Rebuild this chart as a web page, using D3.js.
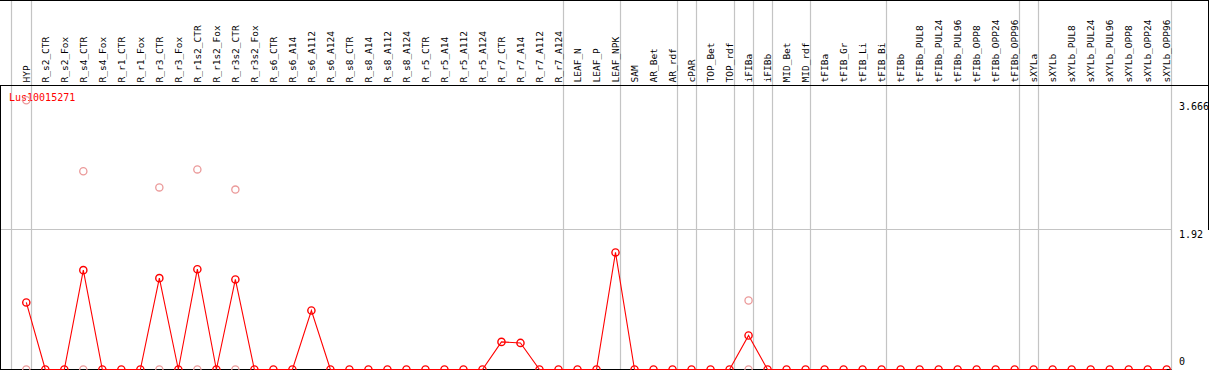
<!DOCTYPE html>
<html>
<head>
<meta charset="utf-8">
<script src="https://cdn.jsdelivr.net/npm/d3@7"></script>
<style>
    body { margin: 0; background: #fff; }
    svg { display: block; }
    .cat-label { font-family: "DejaVu Sans Mono", monospace; font-size: 9.5px; fill: #000; }
    .axis-label { font-family: "DejaVu Sans Mono", monospace; font-size: 10px; fill: #000; }
</style>
</head>
<body>
<svg id="chart" width="1209" height="370"></svg>
<script>
// Sample names along the top
const categories = [
    'HYP', 'R_s2_CTR', 'R_s2_Fox', 'R_s4_CTR', 'R_s4_Fox', 'R_r1_CTR', 'R_r1_Fox',
    'R_r3_CTR', 'R_r3_Fox', 'R_r1s2_CTR', 'R_r1s2_Fox', 'R_r3s2_CTR', 'R_r3s2_Fox',
    'R_s6_CTR', 'R_s6_A14', 'R_s6_A112', 'R_s6_A124', 'R_s8_CTR', 'R_s8_A14', 'R_s8_A112',
    'R_s8_A124', 'R_r5_CTR', 'R_r5_A14', 'R_r5_A112', 'R_r5_A124', 'R_r7_CTR', 'R_r7_A14',
    'R_r7_A112', 'R_r7_A124', 'LEAF_N', 'LEAF_P', 'LEAF_NPK', 'SAM', 'AR_Bet', 'AR_rdf',
    'cPAR', 'TOP_Bet', 'TOP_rdf', 'iFIBa', 'iFIBb', 'MID_Bet', 'MID_rdf', 'tFIBa',
    'tFIB_Gr', 'tFIB_Li', 'tFIB_Bi', 'tFIBb', 'tFIBb_PUL8', 'tFIBb_PUL24', 'tFIBb_PUL96',
    'tFIBb_OPP8', 'tFIBb_OPP24', 'tFIBb_OPP96', 'sXYLa', 'sXYLb', 'sXYLb_PUL8',
    'sXYLb_PUL24', 'sXYLb_PUL96', 'sXYLb_OPP8', 'sXYLb_OPP24', 'sXYLb_OPP96'
];

// Mean expression per sample (red line)
const meanValues = [
    0.913, 0, 0, 1.353, 0, 0, 0, 1.244, 0, 1.366, 0, 1.226, 0,
    0, 0, 0.804, 0, 0, 0, 0, 0, 0, 0, 0, 0, 0.376, 0.362, 0, 0,
    0, 0, 1.594, 0, 0, 0, 0, 0, 0, 0.463, 0, 0, 0, 0,
    0, 0, 0, 0, 0, 0, 0, 0, 0, 0, 0, 0, 0, 0, 0, 0, 0, 0
];

// Individual replicates (pale circles)
const repSamples = ['HYP', 'HYP', 'R_s4_CTR', 'R_s4_CTR', 'R_r3_CTR', 'R_r3_CTR',
    'R_r1s2_CTR', 'R_r1s2_CTR', 'R_r3s2_CTR', 'R_r3s2_CTR', 'iFIBa', 'iFIBa'];
const repValues = [3.666, 0, 2.70, 0, 2.48, 0, 2.725, 0, 2.45, 0, 0.94, 0];

// Last sample of each tissue group (gray separators)
const groupEnds = ['HYP', 'R_r7_A124', 'LEAF_NPK', 'AR_rdf', 'cPAR', 'TOP_rdf', 'iFIBa',
    'iFIBb', 'MID_rdf', 'tFIB_Bi', 'tFIBb_OPP96', 'sXYLa', 'sXYLb_OPP96'];

const yTicks = [0, 1.92, 3.666];
const geneName = 'Lus10015271';

const width = 1209;
const headerBottom = 85.5;
const svg = d3.select('#chart');

const x = d3.scalePoint()
    .domain(categories)
    .range([26.3, 1166.7]);

const y = d3.scaleLinear()
    .domain([0, 3.666])
    .range([369.5, 100.3]);

const sepOffset = 4.4;
const rightEdge = x(categories[categories.length - 1]) + sepOffset;

// Gray separators
const seps = [10.7].concat(groupEnds.map(c => x(c) + sepOffset));
svg.selectAll('line.sep')
    .data(seps)
    .enter().append('line')
    .attr('class', 'sep')
    .attr('x1', d => Math.round(d) + 0.5)
    .attr('x2', d => Math.round(d) + 0.5)
    .attr('y1', 0)
    .attr('y2', 370)
    .attr('stroke', '#c4c4c4')
    .attr('stroke-width', 1.2);

// Middle gridline
svg.append('line')
    .attr('x1', 0)
    .attr('x2', Math.round(rightEdge) + 0.5)
    .attr('y1', Math.round(y(1.92)) + 0.5)
    .attr('y2', Math.round(y(1.92)) + 0.5)
    .attr('stroke', '#c4c4c4')
    .attr('stroke-width', 1.2);

// Frame lines
svg.append('line')
    .attr('x1', 0).attr('x2', width)
    .attr('y1', 0.5).attr('y2', 0.5)
    .attr('stroke', '#000');
svg.append('line')
    .attr('x1', 0).attr('x2', width)
    .attr('y1', headerBottom).attr('y2', headerBottom)
    .attr('stroke', '#000');
svg.append('line')
    .attr('x1', 0.5).attr('x2', 0.5)
    .attr('y1', headerBottom).attr('y2', 370)
    .attr('stroke', '#000');
svg.append('line')
    .attr('x1', width - 0.5).attr('x2', width - 0.5)
    .attr('y1', 0).attr('y2', Math.round(y(1.92)) + 1)
    .attr('stroke', '#000');
svg.append('line')
    .attr('x1', 0).attr('x2', Math.round(rightEdge) + 0.5)
    .attr('y1', 369.5).attr('y2', 369.5)
    .attr('stroke', '#000');

// Rotated sample labels
svg.selectAll('text.cat-label')
    .data(categories)
    .enter().append('text')
    .attr('class', 'cat-label')
    .attr('transform', d => `translate(${x(d) + 3.6},82.5) rotate(-90)`)
    .text(d => d);

// Gene name
svg.append('text')
    .attr('x', 9)
    .attr('y', 101)
    .attr('font-family', '"DejaVu Sans Mono", monospace')
    .attr('font-size', '10px')
    .attr('fill', '#ff0000')
    .text(geneName);

// Right-side value labels
svg.selectAll('text.axis-label')
    .data(yTicks)
    .enter().append('text')
    .attr('class', 'axis-label')
    .attr('x', 1179)
    .attr('y', d => d === 0 ? y(d) - 4.5 : y(d) + 9.5)
    .text(d => d);

// Replicate points
svg.selectAll('circle.rep')
    .data(repSamples.map((s, i) => ({ s, v: repValues[i] })))
    .enter().append('circle')
    .attr('class', 'rep')
    .attr('cx', d => x(d.s))
    .attr('cy', d => y(d.v))
    .attr('r', 3.6)
    .attr('fill', 'none')
    .attr('stroke', '#eb9a9a')
    .attr('stroke-width', 1.3);

// Mean line
const line = d3.line()
    .x((d, i) => x(categories[i]))
    .y(d => y(d));

svg.append('path')
    .datum(meanValues)
    .attr('d', line)
    .attr('fill', 'none')
    .attr('stroke', '#ff0000')
    .attr('stroke-width', 1.1);

svg.selectAll('circle.mean')
    .data(meanValues)
    .enter().append('circle')
    .attr('class', 'mean')
    .attr('cx', (d, i) => x(categories[i]))
    .attr('cy', d => y(d))
    .attr('r', 3.6)
    .attr('fill', 'none')
    .attr('stroke', '#ff0000')
    .attr('stroke-width', 1.4);
</script>
</body>
</html>
